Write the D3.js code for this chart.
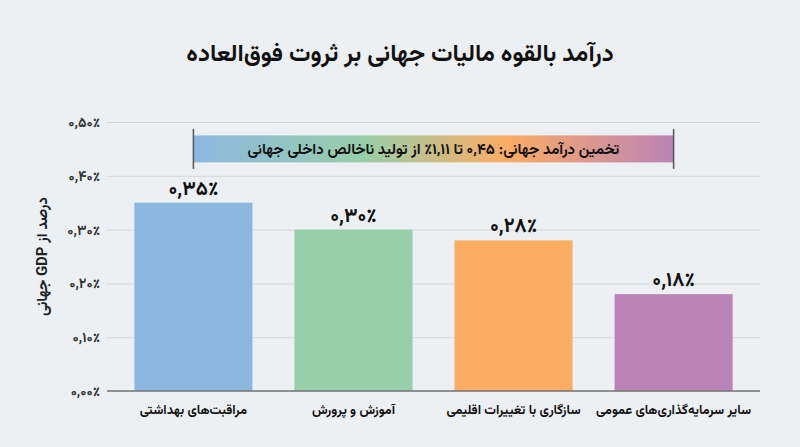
<!DOCTYPE html>
<html lang="fa">
<head>
<meta charset="utf-8">
<script src="https://cdn.jsdelivr.net/npm/d3@7"></script>
<style>
  html, body { margin: 0; padding: 0; background: #edf0f2; }
  svg { display: block; font-family: Vazirmatn, "Noto Sans Arabic", "DejaVu Sans", sans-serif; }
</style>
</head>
<body>
<svg id="chart" width="800" height="447"></svg>
<script>
const title = "درآمد بالقوه مالیات جهانی بر ثروت فوق‌العاده";
const yAxisTitle = "درصد از GDP جهانی";
const categories = ["مراقبت‌های بهداشتی", "آموزش و پرورش", "سازگاری با تغییرات اقلیمی", "سایر سرمایه‌گذاری‌های عمومی"];
const values = [0.35, 0.30, 0.28, 0.18];
const colors = ["#8cb8e0", "#97cfab", "#fbad64", "#bb83b8"];
const yTicks = [0, 0.1, 0.2, 0.3, 0.4, 0.5];
const bannerText = "تخمین درآمد جهانی: ۰,۴۵ تا ۱,۱۱٪ از تولید ناخالص داخلی جهانی";
const bannerLevel = 0.45;

const faDigits = "۰۱۲۳۴۵۶۷۸۹";
const toFa = s => s.replace(/[0-9]/g, d => faDigits[+d]);
const fmt = v => toFa(v.toFixed(2).replace(".", ",")) + "٪";

const svg = d3.select("#chart");
const margin = { left: 107, right: 40, top: 122, bottom: 56 };
const W = 800, H = 447;

const x = d3.scaleBand().domain(categories).range([margin.left, W - margin.right])
  .paddingInner(0.2625).paddingOuter(0.171);
const y = d3.scaleLinear().domain([0, 0.5]).range([H - margin.bottom, margin.top]);

// title
svg.append("text").attr("x", 400).attr("y", 61).attr("text-anchor", "middle")
  .attr("direction", "rtl").style("font-size", "24px").style("font-weight", "bold")
  .attr("fill", "#111").text(title);

// gridlines + y axis
const yAxis = svg.append("g").attr("transform", `translate(${margin.left},0)`)
  .call(d3.axisLeft(y).tickValues(yTicks).tickFormat(fmt)
    .tickSize(-(W - margin.right - margin.left)).tickPadding(7));
yAxis.select(".domain").remove();
yAxis.selectAll(".tick line").attr("stroke", "#d3d7da").attr("stroke-width", 1);
yAxis.selectAll(".tick text").attr("fill", "#333").style("font-size", "14px")
  .style("font-weight", "bold").style("font-family", "Vazirmatn, 'DejaVu Sans', sans-serif");

// y axis title
svg.append("text").attr("transform", `translate(42,${(y(0.5)+y(0))/2}) rotate(-90)`)
  .attr("text-anchor", "middle").attr("direction", "rtl").attr("dy", "0.35em")
  .style("font-size", "15px").style("font-weight", "bold").attr("fill", "#222").text(yAxisTitle);

// bars
svg.append("g").selectAll("rect").data(categories).join("rect")
  .attr("x", d => x(d)).attr("width", x.bandwidth())
  .attr("y", (d, i) => y(values[i])).attr("height", (d, i) => y(0) - y(values[i]))
  .attr("fill", (d, i) => colors[i]);

// baseline
svg.append("line").attr("x1", margin.left).attr("x2", W - margin.right)
  .attr("y1", y(0)).attr("y2", y(0)).attr("stroke", "#777").attr("stroke-width", 1.5);

// value labels
svg.append("g").selectAll("text").data(categories).join("text")
  .attr("x", d => x(d) + x.bandwidth() / 2).attr("y", (d, i) => y(values[i]) - 8)
  .attr("text-anchor", "middle").style("font-size", "20px").style("font-weight", "bold")
  .attr("fill", "#111").text((d, i) => fmt(values[i]));

// x labels
svg.append("g").selectAll("text").data(categories).join("text")
  .attr("x", d => x(d) + x.bandwidth() / 2).attr("y", y(0) + 23)
  .attr("text-anchor", "middle").attr("direction", "rtl")
  .style("font-size", "13px").style("font-weight", "bold").attr("fill", "#111").text(d => d);

// banner
const defs = svg.append("defs");
const grad = defs.append("linearGradient").attr("id", "bannerGrad");
[[0, colors[0]], [0.35, colors[1]], [0.65, colors[2]], [1, colors[3]]].forEach(([o, c]) =>
  grad.append("stop").attr("offset", o).attr("stop-color", c));
const bx1 = x(categories[0]) + x.bandwidth() / 2;
const bx2 = x(categories[3]) + x.bandwidth() / 2;
const by = y(bannerLevel);
svg.append("rect").attr("x", bx1).attr("width", bx2 - bx1)
  .attr("y", by - 13.5).attr("height", 27).attr("fill", "url(#bannerGrad)");
[bx1, bx2].forEach(bx => svg.append("line").attr("x1", bx).attr("x2", bx)
  .attr("y1", by - 20).attr("y2", by + 20).attr("stroke", "#555").attr("stroke-width", 1.5));
svg.append("text").attr("x", (bx1 + bx2) / 2).attr("y", by).attr("dy", "0.35em")
  .attr("text-anchor", "middle").attr("direction", "rtl")
  .style("font-size", "15px").style("font-weight", "bold").attr("fill", "#111").text(bannerText);
</script>
</body>
</html>
